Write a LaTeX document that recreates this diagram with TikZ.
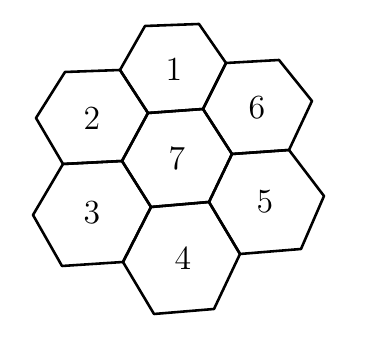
\documentclass[tikz,border=0pt]{standalone}
\usepackage{tikz}
\usetikzlibrary{positioning}

\begin{document}
\begin{tikzpicture}[
    x=0.15mm, y=-0.15mm,
    cell/.style={draw=black, line width=1.1pt, line join=round},
    num/.style={font=\Large, inner sep=0pt}
]
\useasboundingbox (0,0) rectangle (368,352);

% corners of the seven cells
\coordinate (a) at (145,26);  \coordinate (b) at (199,24);
\coordinate (c) at (226,63);  \coordinate (d) at (203,109);
\coordinate (e) at (148,113); \coordinate (f) at (120,70);
\coordinate (g) at (65,72);   \coordinate (h) at (36,118);
\coordinate (i) at (63,164);  \coordinate (j) at (122,161);
\coordinate (k) at (279,60);  \coordinate (l) at (312,101);
\coordinate (m) at (289,150); \coordinate (n) at (232,154);
\coordinate (o) at (209,202); \coordinate (p) at (151,207);
\coordinate (q) at (33,215);  \coordinate (r) at (62,266);
\coordinate (s) at (123,262); \coordinate (t) at (154,314);
\coordinate (u) at (214,309); \coordinate (v) at (240,254);
\coordinate (w) at (301,249); \coordinate (x) at (324,196);

\draw[cell] (a) -- (b) -- (c) -- (d) -- (e) -- (f) -- cycle;
\node[num] (h1) at (174,69) {1};

\draw[cell] (g) -- (f) -- (e) -- (j) -- (i) -- (h) -- cycle;
\node[num] (h2) at (92,118) {2};

\draw[cell] (i) -- (j) -- (p) -- (s) -- (r) -- (q) -- cycle;
\node[num] (h3) at (92,213) {3};

\draw[cell] (p) -- (o) -- (v) -- (u) -- (t) -- (s) -- cycle;
\node[num] (h4) at (183,258) {4};

\draw[cell] (n) -- (m) -- (x) -- (w) -- (v) -- (o) -- cycle;
\node[num] (h5) at (265,202) {5};

\draw[cell] (c) -- (k) -- (l) -- (m) -- (n) -- (d) -- cycle;
\node[num] (h6) at (257,108) {6};

\draw[cell] (e) -- (d) -- (n) -- (o) -- (p) -- (j) -- cycle;
\node[num] (h7) at (177,158) {7};
\end{tikzpicture}
\end{document}
